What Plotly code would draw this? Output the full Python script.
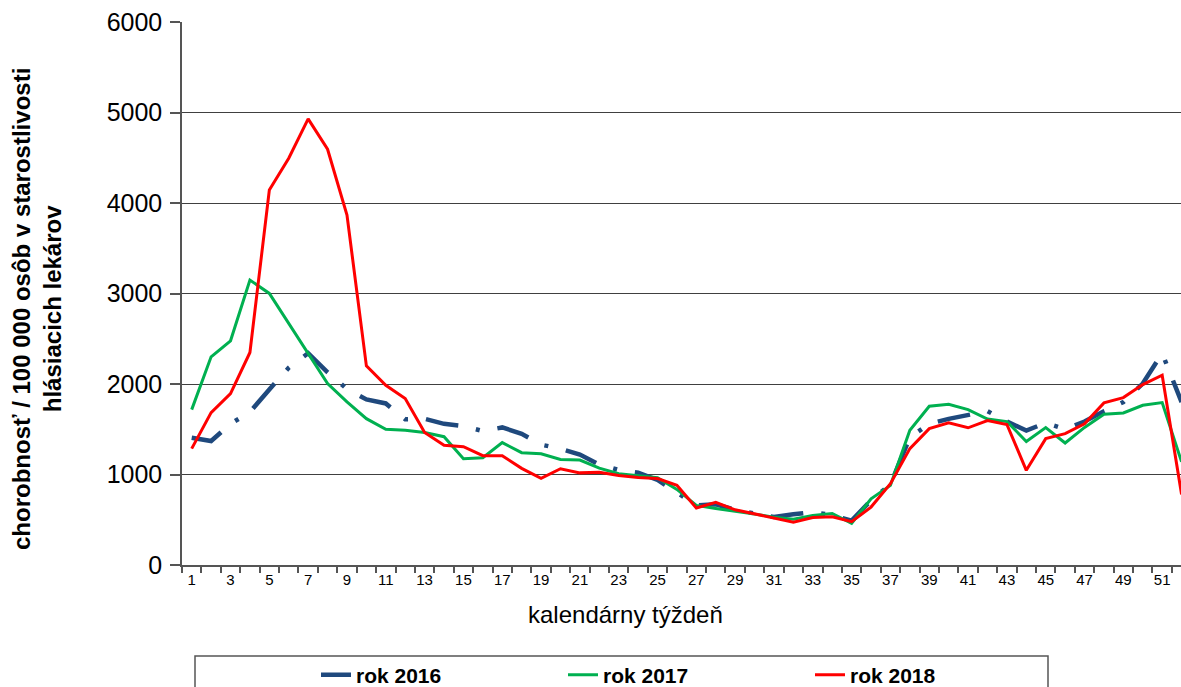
import plotly.graph_objects as go

weeks = list(range(1, 53))

rok_2016 = [1407, 1370, 1560, 1690, 1940, 2180, 2340, 2130, 1945, 1830,
            1785, 1610, 1615, 1560, 1535, 1480, 1520, 1450, 1330, 1285,
            1220, 1110, 1050, 1020, 940, 800, 660, 670, 610, 570,
            530, 560, 585, 550, 490, 715, 890, 1410, 1560, 1615,
            1660, 1700, 1585, 1485, 1570, 1500, 1585, 1700, 1800, 2005,
            2340, 1800]

rok_2017 = [1717, 2300, 2477, 3148, 3001, 2669, 2329, 2005, 1802, 1617,
            1499, 1488, 1465, 1418, 1175, 1186, 1352, 1241, 1230, 1167,
            1160, 1070, 1009, 990, 965, 835, 658, 625, 590, 562,
            529, 505, 548, 570, 460, 732, 880, 1488, 1754, 1775,
            1717, 1612, 1585, 1365, 1518, 1348, 1520, 1665, 1680, 1765,
            1795, 1140]

rok_2018 = [1286, 1684, 1894, 2348, 4144, 4495, 4930, 4594, 3867, 2200,
            1986, 1839, 1465, 1322, 1308, 1208, 1208, 1068, 958, 1064,
            1018, 1025, 990, 968, 955, 880, 630, 692, 610, 566,
            516, 474, 525, 533, 478, 640, 898, 1286, 1507, 1572,
            1516, 1595, 1553, 1046, 1396, 1452, 1560, 1791, 1850, 1994,
            2097, 780]

x_tick_vals = list(range(1, 53, 2))
x_tick_text = [str(v) for v in x_tick_vals]
y_tick_vals = [0, 1000, 2000, 3000, 4000, 5000, 6000]

FONT = "Liberation Sans, Arial, sans-serif"

# plot area in page pixels: x 182..1181, y 22..565 (page body margin removed)
PX0, PY1, PW, PH = 182, 565, 999, 543


def px(x):
    return (x - PX0) / PW


def py(y):
    return (PY1 - y) / PH


fig = go.Figure()
fig.add_trace(go.Scatter(
    x=weeks, y=rok_2016, mode="lines", name="rok 2016",
    line=dict(color="#1F497D", width=4.5, dash="33px,18px,4px,18px"),
))
fig.add_trace(go.Scatter(
    x=weeks, y=rok_2017, mode="lines", name="rok 2017",
    line=dict(color="#00B050", width=3),
))
fig.add_trace(go.Scatter(
    x=weeks, y=rok_2018, mode="lines", name="rok 2018",
    line=dict(color="#FF0000", width=3),
))

fig.update_layout(
    width=1181, height=687,
    margin=dict(l=182, r=0, t=22, b=122, autoexpand=False),
    paper_bgcolor="white", plot_bgcolor="white",
    font=dict(family=FONT, color="#000000"),
    showlegend=True,
    legend=dict(
        orientation="h", x=px(316), xanchor="left", y=py(675), yanchor="middle",
        font=dict(family=FONT, size=21, weight="bold"),
        entrywidth=202, entrywidthmode="pixels",
        bgcolor="rgba(0,0,0,0)", borderwidth=0,
    ),
    xaxis=dict(
        range=[0.5, 51.97],
        tickmode="array", tickvals=x_tick_vals, ticktext=x_tick_text,
        ticks="", tickfont=dict(size=15, family=FONT),
        showgrid=False, zeroline=False,
        showline=True, linecolor="#555555", linewidth=1.5,
        minor=dict(tickvals=[w + 0.5 for w in range(0, 53)], ticks="outside",
                   ticklen=6, tickcolor="#555555", tickwidth=1.5, showgrid=False),
    ),
    yaxis=dict(
        range=[0, 6000],
        tickmode="array", tickvals=y_tick_vals,
        ticks="outside", ticklen=10, tickcolor="#555555", tickwidth=1.5,
        ticklabelstandoff=3, ticklabeloverflow="allow",
        tickfont=dict(size=25, family=FONT),
        showgrid=True, gridcolor="#404040", gridwidth=1,
        zeroline=False,
        showline=True, linecolor="#555555", linewidth=1.5,
    ),
    shapes=[dict(
        type="rect", xref="paper", yref="paper",
        x0=px(195), x1=px(1048), y0=py(656), y1=py(705),
        line=dict(color="#555555", width=1.5), fillcolor="rgba(0,0,0,0)",
    )],
    annotations=[
        dict(text="kalendárny týždeň", xref="paper", yref="paper",
             x=px(625), y=py(614),
             xanchor="center", yanchor="middle", showarrow=False,
             font=dict(size=24, family=FONT)),
        dict(text="chorobnosť / 100 000 osôb v starostlivosti<br>hlásiacich lekárov",
             xref="paper", yref="paper",
             x=px(37), y=py(309),
             xanchor="center", yanchor="middle", showarrow=False,
             textangle=-90,
             font=dict(size=24, family=FONT, weight="bold")),
    ],
)

fig.write_html(
    "out.html",
    config={"displayModeBar": False},
    post_script="document.body.style.margin='0';document.body.style.overflow='hidden';",
)
